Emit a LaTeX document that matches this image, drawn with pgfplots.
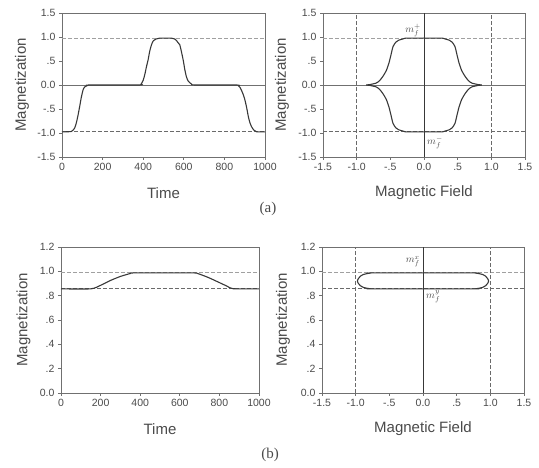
\documentclass[border=0pt]{standalone}
\usepackage{pgfplots}
\pgfplotsset{compat=1.18}
\usepackage{fontspec}
\setmainfont{Liberation Sans}
\newfontfamily\serif{Liberation Serif}

\definecolor{axcol}{HTML}{707070}
\definecolor{curve}{HTML}{383838}
\definecolor{dashlt}{HTML}{A0A0A0}
\definecolor{dashdk}{HTML}{6A6A6A}
\definecolor{txt}{HTML}{4A4A4A}

\tikzset{mlab/.style={text=txt, font=\fontsize{10}{11}\selectfont, inner sep=1pt}}

\pgfplotsset{
  panel/.style={
    scale only axis,
    axis line style={axcol, line width=0.9pt},
    tick style={axcol, line width=0.7pt},
    tick align=outside,
    major tick length=3pt,
    tick pos=left,
    ticklabel style={font=\fontsize{10.5}{12}\selectfont, text=txt},
    label style={font=\fontsize{15}{18}\selectfont, text=txt},
    xlabel style={at={(axis description cs:0.5,0)}, yshift=-36pt, anchor=center},
    clip=false,
  },
  refsolid/.style={axcol, line width=0.8pt},
  refdash/.style={dashlt, line width=0.9pt, dash pattern=on 4pt off 2pt},
  refdashdk/.style={dashdk, line width=0.9pt, dash pattern=on 4pt off 2pt},
  data/.style={curve, line width=1.1pt, smooth, tension=0.4},
}

\begin{document}
\begin{tikzpicture}
\path (0pt,0pt) rectangle (539pt,468pt);

% ---- (a) left: magnetization vs time
\begin{axis}[panel, at={(62pt,311pt)}, anchor=south west, width=203pt, height=144pt,
  xmin=0, xmax=1000, ymin=-1.5, ymax=1.5,
  xtick={0,200,400,600,800,1000}, xticklabels={0,200,400,600,800,1000},
  ytick={-1.5,-1,-0.5,0,0.5,1,1.5}, yticklabels={-1.5,-1.0,-.5,0.0,.5,1.0,1.5},
  xlabel={Time}, ylabel={Magnetization},
  ylabel style={at={(axis description cs:-0.197,0.5)}, anchor=center}]
\addplot[refsolid] coordinates {(0,0) (1000,0)};
\addplot[refdash] coordinates {(0,0.977) (1000,0.977)};
\addplot[refdashdk] coordinates {(0,-0.977) (1000,-0.977)};
\addplot[data] coordinates {
(0,-0.977) (45,-0.97) (55,-0.94) (62,-0.9) (70,-0.8) (78,-0.65) (87,-0.45)
(95,-0.26) (104,-0.1) (112,-0.04) (125,-0.01) (140,0) (380,0) (390,0.02)
(400,0.1) (408,0.22) (416,0.38) (424,0.52) (432,0.7) (441,0.84) (450,0.92)
(465,0.96) (480,0.975) (540,0.975) (555,0.96) (565,0.92) (572,0.88) (580,0.84)
(588,0.7) (597,0.52) (605,0.32) (613,0.17) (622,0.08) (638,0.02) (655,0)
(860,0) (870,-0.02) (877,-0.05) (885,-0.12) (893,-0.2) (901,-0.31) (910,-0.48)
(918,-0.66) (926,-0.79) (934,-0.87) (945,-0.94) (959,-0.975) (1000,-0.977)};
\end{axis}

% ---- (a) right: magnetization vs field
\begin{axis}[panel, at={(323pt,311pt)}, anchor=south west, width=202pt, height=144pt,
  xmin=-1.5, xmax=1.5, ymin=-1.5, ymax=1.5,
  xtick={-1.5,-1,-0.5,0,0.5,1,1.5}, xticklabels={-1.5,-1.0,-.5,0.0,.5,1.0,1.5},
  ytick={-1.5,-1,-0.5,0,0.5,1,1.5}, yticklabels={-1.5,-1.0,-.5,0.0,.5,1.0,1.5},
  xlabel={Magnetic Field}, ylabel={Magnetization},
  ylabel style={at={(axis description cs:-0.203,0.5)}, anchor=center}]
\addplot[refsolid] coordinates {(-1.5,0) (1.5,0)};
\addplot[refsolid, curve] coordinates {(0,-1.5) (0,1.5)};
\addplot[refdash] coordinates {(-1.5,0.977) (1.5,0.977)};
\addplot[refdashdk] coordinates {(-1.5,-0.977) (1.5,-0.977)};
\addplot[refdashdk] coordinates {(-1,-1.5) (-1,1.5)};
\addplot[refdashdk] coordinates {(1,-1.5) (1,1.5)};
\addplot[data] coordinates {
(-0.855,0) (-0.8,0.01) (-0.71,0.04) (-0.66,0.09) (-0.61,0.18) (-0.56,0.3)
(-0.52,0.46) (-0.49,0.63) (-0.46,0.8) (-0.42,0.89) (-0.38,0.93) (-0.3,0.965)
(-0.24,0.977) (0.24,0.977) (0.3,0.965) (0.38,0.93) (0.42,0.89) (0.46,0.8)
(0.49,0.63) (0.52,0.46) (0.56,0.3) (0.61,0.18) (0.66,0.09) (0.71,0.04)
(0.8,0.01) (0.855,0)};
\addplot[data] coordinates {
(-0.855,0) (-0.8,-0.01) (-0.71,-0.04) (-0.66,-0.09) (-0.61,-0.18) (-0.56,-0.3)
(-0.52,-0.46) (-0.49,-0.63) (-0.46,-0.8) (-0.42,-0.89) (-0.38,-0.93) (-0.3,-0.965)
(-0.24,-0.977) (0.24,-0.977) (0.3,-0.965) (0.38,-0.93) (0.42,-0.89) (0.46,-0.8)
(0.49,-0.63) (0.52,-0.46) (0.56,-0.3) (0.61,-0.18) (0.66,-0.09) (0.71,-0.04)
(0.8,-0.01) (0.855,0)};
\node[mlab, anchor=east] at (axis cs:-0.03,1.14) {$m_f^{+}$};
\node[mlab, anchor=west] at (axis cs:0.03,-1.2) {$m_f^{-}$};
\end{axis}

% ---- (b) left
\begin{axis}[panel, at={(61pt,75pt)}, anchor=south west, width=198pt, height=146pt,
  xmin=0, xmax=1000, ymin=0, ymax=1.2,
  xtick={0,200,400,600,800,1000}, xticklabels={0,200,400,600,800,1000},
  ytick={0,0.2,0.4,0.6,0.8,1,1.2}, yticklabels={0.0,.2,.4,.6,.8,1.0,1.2},
  xlabel={Time}, ylabel={Magnetization},
  ylabel style={at={(axis description cs:-0.19,0.5)}, anchor=center}]
\addplot[refdash] coordinates {(0,0.987) (1000,0.987)};
\addplot[refdashdk] coordinates {(0,0.856) (1000,0.856)};
\addplot[data] coordinates {
(0,0.856) (150,0.856) (200,0.885) (250,0.925) (300,0.958) (350,0.982)
(375,0.987) (660,0.987) (690,0.982) (740,0.952) (790,0.915) (840,0.877)
(870,0.857) (1000,0.856)};
\end{axis}

% ---- (b) right
\begin{axis}[panel, at={(322pt,75pt)}, anchor=south west, width=202pt, height=146pt,
  xmin=-1.5, xmax=1.5, ymin=0, ymax=1.2,
  xtick={-1.5,-1,-0.5,0,0.5,1,1.5}, xticklabels={-1.5,-1.0,-.5,0.0,.5,1.0,1.5},
  ytick={0,0.2,0.4,0.6,0.8,1,1.2}, yticklabels={0.0,.2,.4,.6,.8,1.0,1.2},
  xlabel={Magnetic Field}, ylabel={Magnetization},
  ylabel style={at={(axis description cs:-0.193,0.5)}, anchor=center}]
\addplot[refsolid, curve] coordinates {(0,0) (0,1.2)};
\addplot[refdash] coordinates {(-1.5,0.987) (1.5,0.987)};
\addplot[refdashdk] coordinates {(-1.5,0.856) (1.5,0.856)};
\addplot[refdashdk] coordinates {(-1,0) (-1,1.2)};
\addplot[refdashdk] coordinates {(1,0) (1,1.2)};
\addplot[data] coordinates {
(-0.975,0.921) (-0.96,0.94) (-0.93,0.96) (-0.88,0.975) (-0.8,0.984) (-0.7,0.987)
(0.7,0.987) (0.8,0.984) (0.88,0.975) (0.93,0.96) (0.96,0.94) (0.975,0.921)};
\addplot[data] coordinates {
(-0.975,0.921) (-0.96,0.9) (-0.93,0.882) (-0.88,0.867) (-0.8,0.858) (-0.7,0.856)
(0.7,0.856) (0.8,0.858) (0.88,0.867) (0.93,0.882) (0.96,0.9) (0.975,0.921)};
\node[mlab, anchor=east] at (axis cs:-0.03,1.08) {$m_f^{x}$};
\node[mlab, anchor=west] at (axis cs:0.03,0.79) {$m_f^{y}$};
\end{axis}

\node[font=\serif\fontsize{15}{18}\selectfont, text=txt] at (268pt,259pt) {(a)};
\node[font=\serif\fontsize{15}{18}\selectfont, text=txt] at (270pt,13pt) {(b)};
\end{tikzpicture}
\end{document}
